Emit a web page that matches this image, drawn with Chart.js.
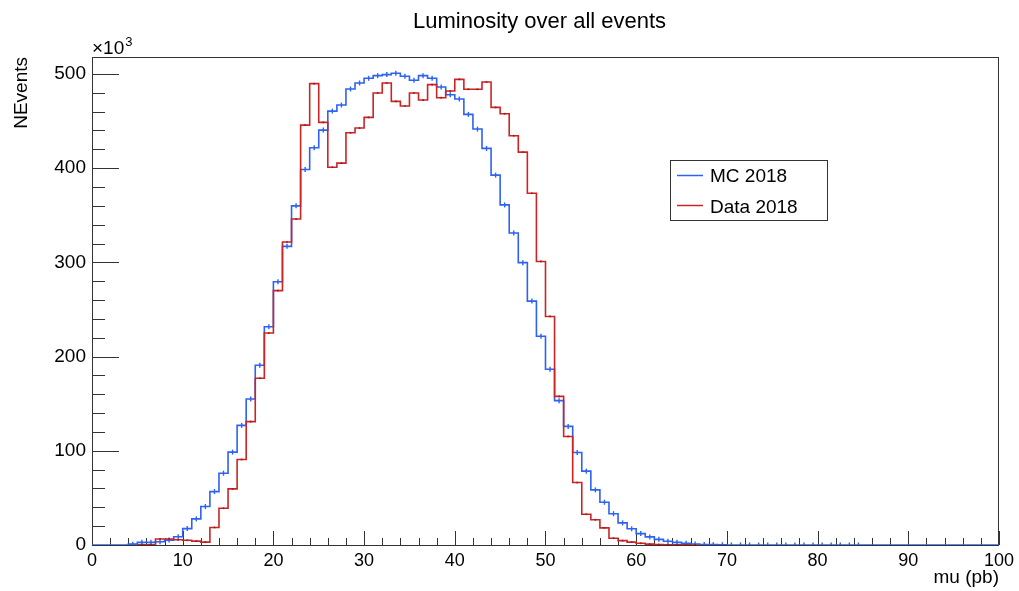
<!DOCTYPE html>
<html>
<head>
<meta charset="utf-8">
<title>Luminosity over all events</title>
<script src="https://cdn.jsdelivr.net/npm/chart.js@4.4.1/dist/chart.umd.min.js"></script>
<style>
  html, body { margin: 0; padding: 0; background: #fff; }
  #wrap { width: 1019px; height: 591px; position: relative; }
</style>
</head>
<body>
<div id="wrap"><canvas id="lumiChart"></canvas></div>
<script>
// --- data: 100 bins of width 1 in mu, entries in units of 10^3 ---
const binWidth = 1;
const mcLabel = 'MC 2018';
const dataLabel = 'Data 2018';

const mcK = [
  0, 0, 0, 0, 0.9, 2.8, 2.8, 3.5, 5.2, 8.8,
  17.4, 27.7, 40.8, 56.7, 76.2, 98.6, 127, 155, 190.8, 231.6,
  279.4, 317, 360, 398.6, 421.6, 440.4, 460.6, 467, 484, 490.4,
  495.4, 498.2, 499.3, 500.7, 497.5, 493.3, 498.2, 495.4, 486.2, 478,
  473.4, 457.1, 441.5, 421, 392.6, 361, 331.2, 299.7, 258.9, 221.6,
  186.5, 153.2, 125.9, 98.2, 78.4, 58.5, 45.4, 33.2, 23.5, 17.2,
  12.1, 8.6, 6, 4, 2.8, 1.8, 1.1, 0.6, 0.35, 0.2,
  0.05, 0.05, 0.05, 0.05, 0.05, 0.05, 0.05, 0.05, 0.05, 0.05,
  0.05, 0.05, 0.05, 0.05, 0.05, 0, 0, 0, 0, 0,
  0, 0, 0, 0, 0, 0, 0, 0, 0, 0
];

const dataK = [
  0, 0, 0, 0, 0, 0.3, 0.3, 6.4, 6.4, 5.5,
  5, 4.1, 3.1, 18.6, 39, 59.6, 90.8, 131, 177, 225,
  270, 321.6, 346, 445.7, 489.7, 448.6, 401, 405.3, 437.6, 442.6,
  453.9, 479.8, 490.4, 470.9, 466, 479.8, 472.3, 488.7, 474.8, 481.9,
  494.3, 483.7, 483.7, 491.5, 464.5, 457.8, 434.4, 417, 373.4, 301,
  242.6, 157.8, 115.2, 66.3, 32.6, 26.8, 18.2, 7.2, 4.6, 3,
  1.8, 0.9, 0.5, 0.3, 0.2, 0.1, 0.05, 0, 0, 0,
  0, 0, 0, 0, 0, 0, 0, 0, 0, 0,
  0, 0, 0, 0, 0, 0, 0, 0, 0, 0,
  0, 0, 0, 0, 0, 0, 0, 0, 0, 0
];

const xRange = [0, 100];
const yRange = [0, 518];
const xLabels = [0, 10, 20, 30, 40, 50, 60, 70, 80, 90, 100];
const yLabels = [0, 100, 200, 300, 400, 500];
const xMinorStep = 2, yMinorStep = 20;

const FONT = "'Liberation Sans', Arial, Helvetica, sans-serif";
const BLUE = '#2d62f2';
const RED = '#cc2424';

// histogram outline: one point per bin low edge, plus the closing edge
function stepPoints(vals, fullRange) {
  let first = 0, last = vals.length - 1;
  if (!fullRange) {
    first = vals.findIndex(v => v > 0);
    last = vals.length - 1 - [...vals].reverse().findIndex(v => v > 0);
  }
  const pts = [];
  for (let i = first; i <= last; i++) pts.push({ x: i * binWidth, y: vals[i] });
  pts.push({ x: (last + 1) * binWidth, y: vals[last] });
  return pts;
}

// markers at bin centres
function centrePoints(vals) {
  const pts = [];
  vals.forEach((v, i) => { if (v > 0) pts.push({ x: (i + 0.5) * binWidth, y: v }); });
  return pts;
}

// frame and inward ticks, ROOT style
const frameTicks = {
  id: 'frameTicks',
  beforeDatasetsDraw(chart) {
    const { ctx, chartArea: a, scales: { x, y } } = chart;
    ctx.save();
    ctx.strokeStyle = '#333';
    ctx.lineWidth = 1;
    ctx.strokeRect(a.left + 0.5, a.top + 0.5, a.right - a.left - 1, a.bottom - a.top);
    ctx.beginPath();
    for (let v = xRange[0]; v <= xRange[1]; v += xMinorStep) {
      const px = Math.round(x.getPixelForValue(v)) + 0.5;
      const len = xLabels.includes(v) ? 14 : 7;
      ctx.moveTo(px, a.bottom);
      ctx.lineTo(px, a.bottom - len);
    }
    for (let v = yRange[0]; v <= yRange[1]; v += yMinorStep) {
      const py = Math.round(y.getPixelForValue(v)) + 0.5;
      const len = yLabels.includes(v) ? 27 : 13;
      ctx.moveTo(a.left, py);
      ctx.lineTo(a.left + len, py);
    }
    ctx.stroke();
    ctx.restore();
  },
  afterDraw(chart) {
    const { ctx, chartArea: a } = chart;
    ctx.save();
    ctx.fillStyle = '#000';
    ctx.textBaseline = 'alphabetic';

    // title
    ctx.font = '22px ' + FONT;
    ctx.textAlign = 'left';
    ctx.fillText('Luminosity over all events', 413, 28);

    // exponent above the y axis
    ctx.font = '19px ' + FONT;
    ctx.fillText('\u00d710', a.left, 54);
    const w = ctx.measureText('\u00d710').width;
    ctx.font = '13px ' + FONT;
    ctx.fillText('3', a.left + w + 1, 46);

    // axis titles
    ctx.font = '19px ' + FONT;
    ctx.textAlign = 'right';
    ctx.fillText('mu (pb)', 999, 583);
    ctx.save();
    ctx.translate(27, a.top);
    ctx.rotate(-Math.PI / 2);
    ctx.fillText('NEvents', 0, 0);
    ctx.restore();

    // legend
    ctx.strokeStyle = '#333';
    ctx.lineWidth = 1;
    ctx.strokeRect(670.5, 160.5, 157, 60);
    const entries = [[chart.data.datasets[0].label, BLUE, 175, 182], [chart.data.datasets[1].label, RED, 205, 213]];
    ctx.font = '19px ' + FONT;
    ctx.textAlign = 'left';
    entries.forEach(([txt, col, ly, ty]) => {
      ctx.strokeStyle = col;
      ctx.lineWidth = 1.5;
      ctx.beginPath();
      ctx.moveTo(677, ly + 0.5);
      ctx.lineTo(703, ly + 0.5);
      ctx.stroke();
      ctx.fillStyle = '#000';
      ctx.fillText(txt, 710, ty);
    });
    ctx.restore();
  }
};

Chart.defaults.font.family = FONT;

new Chart(document.getElementById('lumiChart'), {
  type: 'line',
  data: {
    datasets: [
      {
        label: mcLabel,
        data: stepPoints(mcK, true),
        borderColor: BLUE,
        borderWidth: 1.6,
        stepped: 'before',
        pointRadius: 0,
        fill: false,
        order: 4
      },
      {
        label: dataLabel,
        data: stepPoints(dataK, false),
        borderColor: RED,
        borderWidth: 1.6,
        stepped: 'before',
        pointRadius: 0,
        fill: false,
        order: 3
      },
      {
        label: mcLabel + ' err',
        data: centrePoints(mcK),
        showLine: false,
        pointStyle: 'line',
        rotation: 90,
        pointRadius: 2.5,
        borderColor: BLUE,
        pointBorderWidth: 1.4,
        order: 2
      },
      {
        label: dataLabel + ' err',
        data: centrePoints(dataK),
        showLine: false,
        pointStyle: 'rect',
        pointRadius: 1.2,
        backgroundColor: '#9a1c1c',
        borderColor: '#9a1c1c',
        pointBorderWidth: 0,
        order: 1
      }
    ]
  },
  options: {
    responsive: true,
    maintainAspectRatio: false,
    animation: false,
    events: [],
    layout: { padding: { top: 57, right: 19, left: 0, bottom: 0 } },
    plugins: {
      legend: { display: false },
      title: { display: false },
      tooltip: { enabled: false }
    },
    scales: {
      x: {
        type: 'linear',
        min: xRange[0],
        max: xRange[1],
        grid: { display: false, drawTicks: false },
        border: { display: false },
        afterBuildTicks: s => { s.ticks = xLabels.map(v => ({ value: v })); },
        ticks: {
          autoSkip: false,
          maxRotation: 0,
          padding: 5,
          color: '#000',
          font: { size: 18 }
        },
        afterFit: s => { s.height = 46; }
      },
      y: {
        type: 'linear',
        min: yRange[0],
        max: yRange[1],
        grid: { display: false, drawTicks: false },
        border: { display: false },
        afterBuildTicks: s => { s.ticks = yLabels.map(v => ({ value: v })); },
        ticks: {
          autoSkip: false,
          padding: 6,
          color: '#000',
          font: { size: 19 }
        },
        afterFit: s => { s.width = 92; }
      }
    }
  },
  plugins: [frameTicks]
});
</script>
</body>
</html>
